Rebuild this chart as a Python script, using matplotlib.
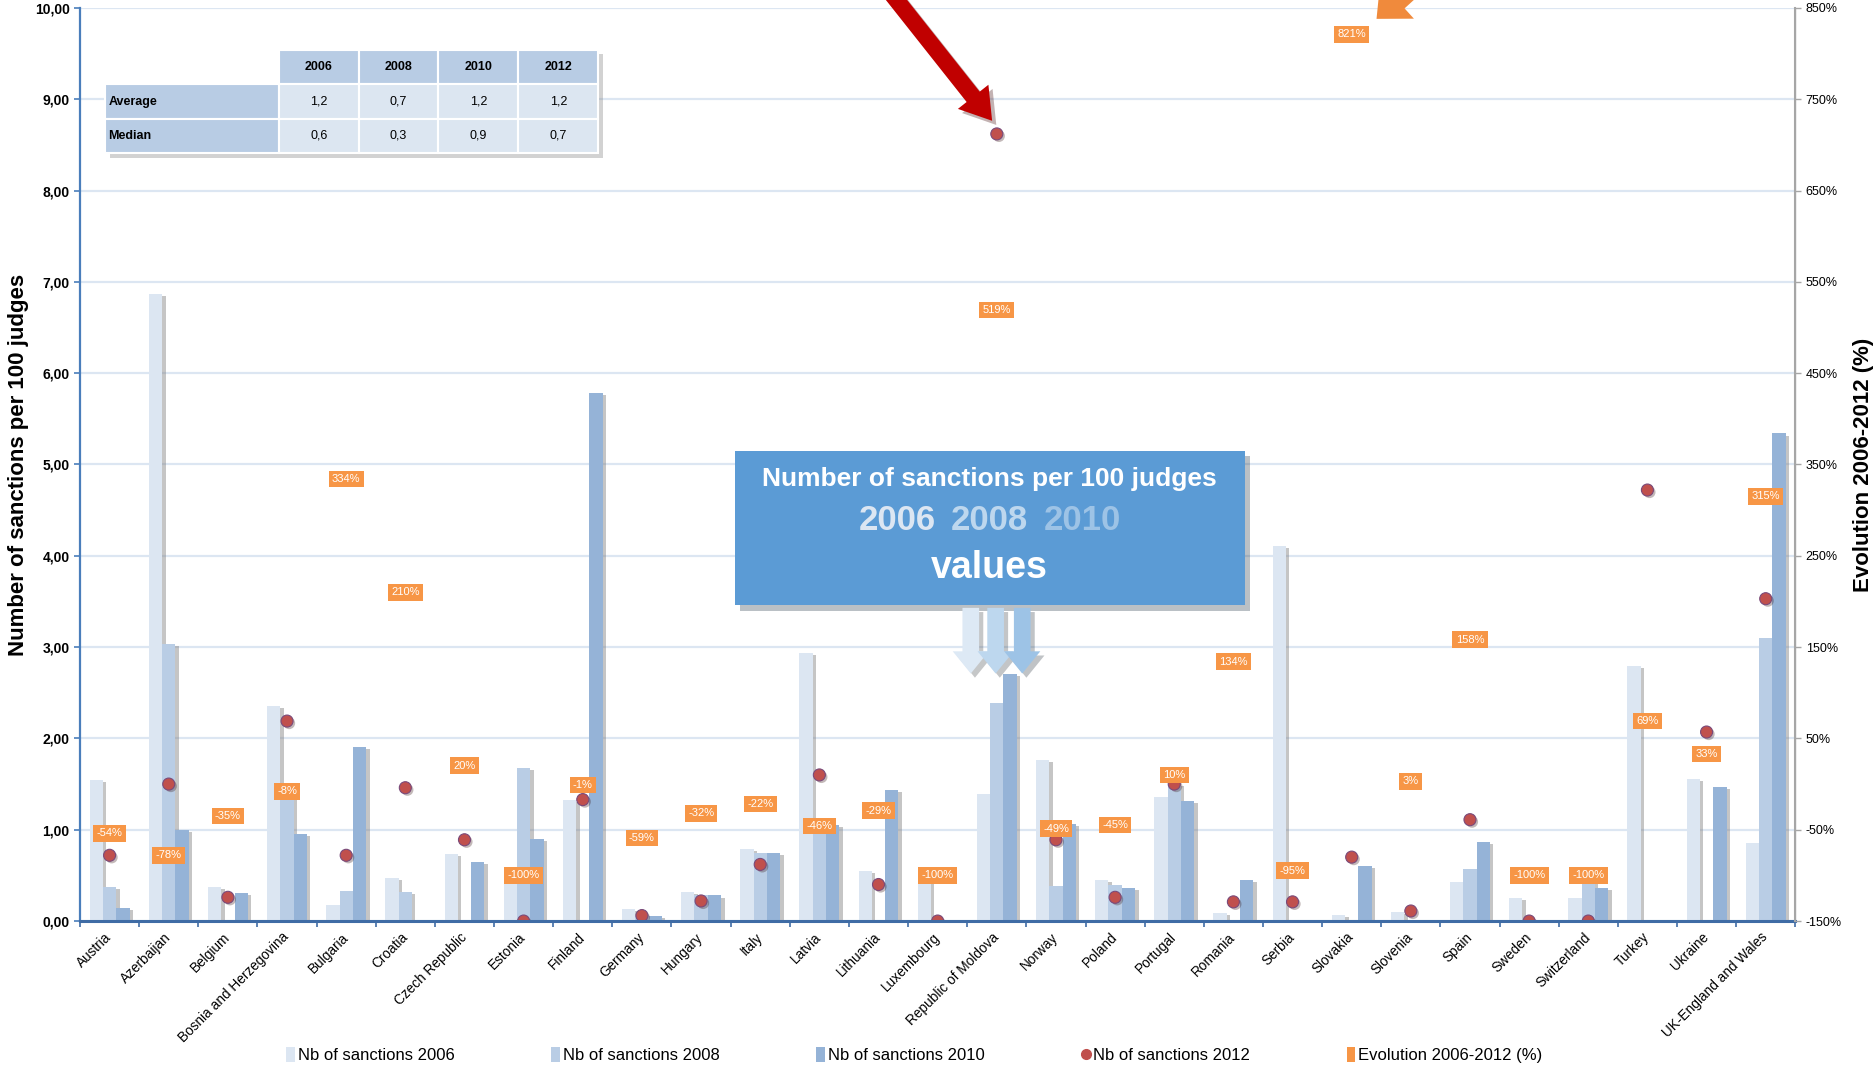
"""
Sanctions per 100 judges, 2006-2012, with evolution 2006-2012 (%).
"""

import numpy as np
import matplotlib.pyplot as plt
import matplotlib.patheffects as pe
from matplotlib.patches import Patch, Rectangle
from matplotlib.lines import Line2D

plt.rcParams["font.family"] = ["Liberation Sans", "DejaVu Sans"]

countries = [
    "Austria", "Azerbaijan", "Belgium", "Bosnia and Herzegovina", "Bulgaria",
    "Croatia", "Czech Republic", "Estonia", "Finland", "Germany", "Hungary",
    "Italy", "Latvia", "Lithuania", "Luxembourg", "Republic of Moldova",
    "Norway", "Poland", "Portugal", "Romania", "Serbia", "Slovakia",
    "Slovenia", "Spain", "Sweden", "Switzerland", "Turkey", "Ukraine",
    "UK-England and Wales",
]
nan = np.nan
nb_2006 = [1.55, 6.87, 0.37, 2.36, 0.18, 0.47, 0.73, 0.45, 1.33, 0.13, 0.32,
           0.79, 2.94, 0.55, 0.45, 1.39, 1.76, 0.45, 1.36, 0.09, 4.11, 0.07,
           0.10, 0.43, 0.25, 0.25, 2.79, 1.56, 0.85]
nb_2008 = [0.37, 3.03, nan, 1.40, 0.33, 0.32, nan, 1.68, nan, 0.07, 0.28,
           0.74, 1.00, nan, nan, 2.39, 0.38, 0.39, 1.50, nan, nan, nan,
           nan, 0.57, nan, 0.45, nan, nan, 3.10]
nb_2010 = [0.14, 1.00, 0.31, 0.95, 1.91, nan, 0.65, 0.90, 5.78, 0.06, 0.28,
           0.75, 1.05, 1.44, nan, 2.71, 1.06, 0.36, 1.32, 0.45, nan, 0.60,
           nan, 0.87, nan, 0.36, nan, 1.47, 5.34]
nb_2012 = [0.72, 1.50, 0.26, 2.19, 0.72, 1.46, 0.89, 0.00, 1.33, 0.06, 0.22,
           0.62, 1.60, 0.40, 0.00, 8.62, 0.89, 0.26, 1.50, 0.21, 0.21, 0.70,
           0.11, 1.11, 0.00, 0.00, 4.72, 2.07, 3.53]
evolution = [-54, -78, -35, -8, 334, 210, 20, -100, -1, -59, -32, -22, -46, -29,
             -100, 519, -49, -45, 10, 134, -95, 821, 3, 158, -100, -100, 69,
             33, 315]

table_years = ["2006", "2008", "2010", "2012"]
table_average = ["1,2", "0,7", "1,2", "1,2"]
table_median = ["0,6", "0,3", "0,9", "0,7"]

c2006, c2008, c2010 = "#DCE6F2", "#B9CDE5", "#95B3D7"
c2012 = "#C0504D"
corange = "#F79646"
grid_col = "#DCE6F2"

fig = plt.figure(figsize=(18.74, 10.68), dpi=100)
ax = fig.add_axes([0.0427, 0.1376, 0.9153, 0.855])
ax2 = ax.twinx()

x = np.arange(len(countries))
w = 0.225
shadow = [pe.SimplePatchShadow(offset=(2.5, -1.5), shadow_rgbFace="#7F7F7F", alpha=0.45), pe.Normal()]

for off, vals, col in [(-w, nb_2006, c2006), (0, nb_2008, c2008), (w, nb_2010, c2010)]:
    bars = ax.bar(x + off, vals, width=w, color=col, zorder=3)
    for b in bars:
        b.set_path_effects(shadow)

dots = ax.scatter(x, nb_2012, s=75, color=c2012, edgecolor="#7A4A7A", linewidth=0.8, zorder=5)
dots.set_path_effects([pe.SimplePatchShadow(offset=(1.5, -1.5), alpha=0.3), pe.Normal()])

ax.set_xlim(-0.5, len(countries) - 0.5)
ax.set_ylim(0, 10)
ax.set_yticks(np.arange(0, 11, 1))
ax.set_yticklabels([f"{v:.2f}".replace(".", ",") for v in range(11)], fontsize=10, fontweight="bold")
ax.yaxis.grid(True, color=grid_col, linewidth=1.6, zorder=0)
ax.set_axisbelow(True)

ax.set_xticks(x)
ax.set_xticklabels(countries, rotation=45, ha="right", va="center", rotation_mode="anchor", fontsize=9.8)
ax.set_xticks(np.arange(-0.5, len(countries), 1), minor=True)
ax.tick_params(axis="x", which="major", length=0, pad=10)
ax.tick_params(axis="x", which="minor", length=4, width=1.2, color="#3F6CA5")
ax.tick_params(axis="y", length=4, width=1.2, color="#4A7EBB")

ax.set_ylabel("Number of sanctions per 100 judges", fontsize=16, fontweight="bold", labelpad=4)

ax2.set_ylim(-150, 850)
ax2.set_yticks(np.arange(-150, 851, 100))
ax2.set_yticklabels([f"{v}%" for v in range(-150, 851, 100)], fontsize=9)
ax2.tick_params(axis="y", length=4, width=1, color="#A6A6A6")
ax2.set_ylabel("Evolution 2006-2012 (%)", fontsize=16, fontweight="bold", rotation=90, labelpad=8)

ax.spines["top"].set_visible(False)
ax2.spines["top"].set_visible(False)
ax.spines["left"].set_color("#4A7EBB")
ax.spines["left"].set_linewidth(1.6)
ax.spines["bottom"].set_color("#3F6CA5")
ax.spines["bottom"].set_linewidth(2.2)
ax.spines["bottom"].set_zorder(6)
ax2.spines["right"].set_color("#A6A6A6")
ax2.spines["right"].set_linewidth(1.5)
ax2.spines["left"].set_visible(False)
ax2.spines["bottom"].set_visible(False)

# evolution labels (orange boxes)
for xi, ev in zip(x, evolution):
    ax2.text(xi, ev, f"{ev}%", ha="center", va="center", fontsize=8, color="white", zorder=7,
             bbox=dict(boxstyle="square,pad=0.3", fc=corange, ec="none"))

# red arrow to Moldova 2012
i_mol = countries.index("Republic of Moldova")
ax.annotate("", xy=(x[i_mol] - 0.05, nb_2012[i_mol] + 0.12), xytext=(-95, 120),
            textcoords="offset points", annotation_clip=False,
            arrowprops=dict(arrowstyle="simple,head_length=1.1,head_width=1.4,tail_width=0.6",
                            mutation_scale=20, fc="#C00000", ec="none",
                            path_effects=[pe.SimplePatchShadow(offset=(3, -3), alpha=0.3), pe.Normal()]))

# orange arrow near the Slovakia label
i_svk = countries.index("Slovakia")
ax.annotate("", xy=(x[i_svk] + 0.42, 9.88), xytext=(55, 50),
            textcoords="offset points", annotation_clip=False,
            arrowprops=dict(arrowstyle="simple,head_length=1.0,head_width=1.8,tail_width=0.8",
                            mutation_scale=20, fc="#F08A3C", ec="none", shrinkA=0, shrinkB=0))

# callout box
bx0, bx1, by0, by1 = 10.57, 19.19, 3.46, 5.15
cx = (bx0 + bx1) / 2
ax.add_patch(Rectangle((bx0, by0), bx1 - bx0, by1 - by0, fc="#5B9BD5", ec="none", zorder=8,
                       path_effects=[pe.SimplePatchShadow(offset=(4, -4), alpha=0.3), pe.Normal()]))
ax.text(cx, 4.84, "Number of sanctions per 100 judges", ha="center", va="center",
        fontsize=19, fontweight="bold", color="white", zorder=9)
for dx, yr, col in [(-1.565, "2006", "#DCE6F2"), (0, "2008", "#BDD7EE"), (1.565, "2010", "#9DC3E6")]:
    ax.text(cx + dx, 4.39, yr, ha="center", va="center", fontsize=25, fontweight="bold",
            color=col, zorder=9)
ax.text(cx, 3.87, "values", ha="center", va="center", fontsize=27, fontweight="bold",
        color="white", zorder=9)
for dx, col in [(-0.32, "#DDE9F5"), (0.1, "#BDD7EE"), (0.55, "#9DC3E6")]:
    ax.annotate("", xy=(cx + dx, 2.68), xytext=(cx + dx, by0),
                arrowprops=dict(arrowstyle="simple,head_length=0.8,head_width=1.3,tail_width=0.6",
                                mutation_scale=20, fc=col, ec="none",
                                path_effects=[pe.SimplePatchShadow(offset=(3, -3), alpha=0.3), pe.Normal()]),
                zorder=8)

# summary table
cell_text = [[""] + table_years, ["Average"] + table_average, ["Median"] + table_median]
tb = [0.0146, 0.841, 0.2875, 0.113]
ax.add_patch(Rectangle((tb[0] + 0.003, tb[1] - 0.005), tb[2], tb[3], transform=ax.transAxes,
                       fc="#808080", alpha=0.35, ec="none", zorder=8.5))
tab = ax.table(cellText=cell_text, colWidths=[174, 80, 80, 80, 80], cellLoc="center",
               bbox=tb, zorder=9)
tab.auto_set_font_size(False)
for (r, c), cell in tab.get_celld().items():
    cell.set_edgecolor("white")
    cell.set_linewidth(1.5)
    cell.get_text().set_fontsize(9)
    if r == 0 and c == 0:
        cell.set_facecolor("white")
    elif r == 0 or c == 0:
        cell.set_facecolor("#B8CCE4")
        cell.get_text().set_fontweight("bold")
    else:
        cell.set_facecolor("#DCE6F1")
    if c == 0:
        cell._loc = "left"
        cell.get_text().set_ha("left")
        cell.PAD = 0.02

# legend
handles = [
    Patch(fc=c2006, ec="none"),
    Patch(fc=c2008, ec="none"),
    Patch(fc=c2010, ec="none"),
    Line2D([], [], marker="o", ls="none", color=c2012, markersize=7),
    Patch(fc=corange, ec="none"),
]
labels = ["Nb of sanctions 2006", "Nb of sanctions 2008", "Nb of sanctions 2010",
          "Nb of sanctions 2012", "Evolution 2006-2012 (%)"]
fig.legend(handles, labels, loc="center", bbox_to_anchor=(0.488, 0.012), ncol=5,
           frameon=False, fontsize=12, handlelength=0.5, handleheight=1.0,
           handletextpad=0.2, columnspacing=5.8)

fig.savefig("out.png", dpi=100)
